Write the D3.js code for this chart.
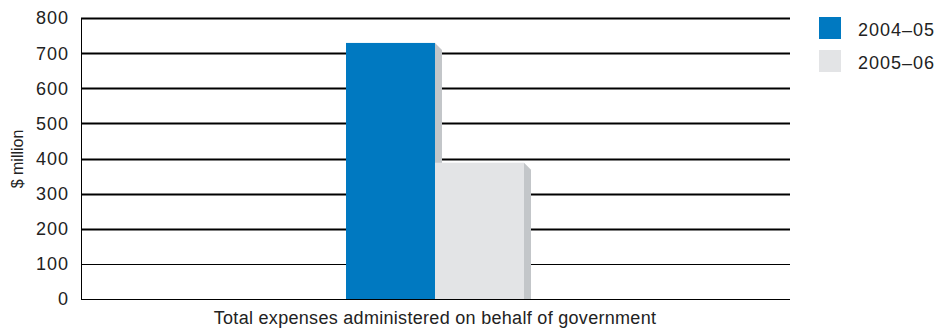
<!DOCTYPE html>
<html>
<head>
<meta charset="utf-8">
<script src="https://cdn.jsdelivr.net/npm/d3@7"></script>
<style>
  body { margin: 0; background: #fff; }
  svg { display: block; font-family: "Liberation Sans", Arial, Helvetica, sans-serif; }
</style>
</head>
<body>
<svg id="chart" width="939" height="328"></svg>
<script>
// Administered expenses, $ million
const categories = ["Total expenses administered on behalf of government"];
const seriesNames = ["2004\u201305", "2005\u201306"];
const values2004 = [729];
const values2005 = [388];
const yTicks = [0, 100, 200, 300, 400, 500, 600, 700, 800];
const colors = ["#0079c1", "#e3e4e6"];
const sideColors = ["#c3c6c9", "#c3c6c9"];

const svg = d3.select("#chart");
const plotLeft = 81, plotRight = 790, plotTop = 18, plotBottom = 299;

const y = d3.scaleLinear().domain([0, 800]).range([plotBottom, plotTop]);
const x0 = d3.scaleBand().domain(categories).range([plotLeft, plotRight]);
const x1 = d3.scaleBand().domain(seriesNames).range([346 - plotLeft, 524 - plotLeft]);

// gridlines
svg.append("g").selectAll("line").data(yTicks).join("line")
  .attr("x1", plotLeft).attr("x2", plotRight)
  .attr("y1", d => Math.round(y(d)) + 0.5).attr("y2", d => Math.round(y(d)) + 0.5)
  .attr("stroke", "#000")
  .attr("stroke-width", d => d >= 200 ? 2 : 1);

// y axis line
svg.append("line").attr("x1", plotLeft + 0.5).attr("x2", plotLeft + 0.5)
  .attr("y1", y(800)).attr("y2", y(0)).attr("stroke", "#000").attr("stroke-width", 1);

// tick labels
svg.append("g").selectAll("text").data(yTicks).join("text")
  .attr("x", 69).attr("y", d => y(d)).attr("dy", "0.36em")
  .attr("text-anchor", "end").attr("font-size", 18).attr("letter-spacing", 1)
  .attr("fill", "#222")
  .text(d => d);

svg.append("text")
  .attr("transform", "translate(23," + 159 + ") rotate(-90)")
  .attr("text-anchor", "middle").attr("font-size", 16).attr("fill", "#222")
  .text("$ million");

const rows = categories.map((c, i) => ({ cat: c, vals: [values2004[i], values2005[i]] }));
const depth = 7;

rows.forEach(r => {
  const g = svg.append("g").attr("transform", `translate(${x0(r.cat)},0)`);
  r.vals.forEach((v, j) => {
    const bx = x1(seriesNames[j]);
    const bw = x1.bandwidth();
    const ty = y(v);
    // side face
    g.append("path")
      .attr("d", `M${bx + bw},${ty} L${bx + bw + depth},${ty + depth} L${bx + bw + depth},${y(0)} L${bx + bw},${y(0)} Z`)
      .attr("fill", sideColors[j]);
  });
  r.vals.forEach((v, j) => {
    const bx = x1(seriesNames[j]);
    g.append("rect")
      .attr("x", bx).attr("y", y(v))
      .attr("width", x1.bandwidth()).attr("height", y(0) - y(v))
      .attr("fill", colors[j]);
  });
});

// category label
svg.append("text")
  .attr("x", 435).attr("y", 324).attr("text-anchor", "middle")
  .attr("font-size", 18).attr("letter-spacing", 0.3).attr("fill", "#222")
  .text(categories[0]);

// legend
const lg = svg.append("g");
seriesNames.forEach((s, i) => {
  lg.append("rect").attr("x", 819).attr("y", 17 + i * 33).attr("width", 22).attr("height", 22)
    .attr("fill", colors[i]);
  lg.append("text").attr("x", 858).attr("y", 36 + i * 33.3)
    .attr("font-size", 18).attr("letter-spacing", 1).attr("fill", "#222").text(s);
});
</script>
</body>
</html>
